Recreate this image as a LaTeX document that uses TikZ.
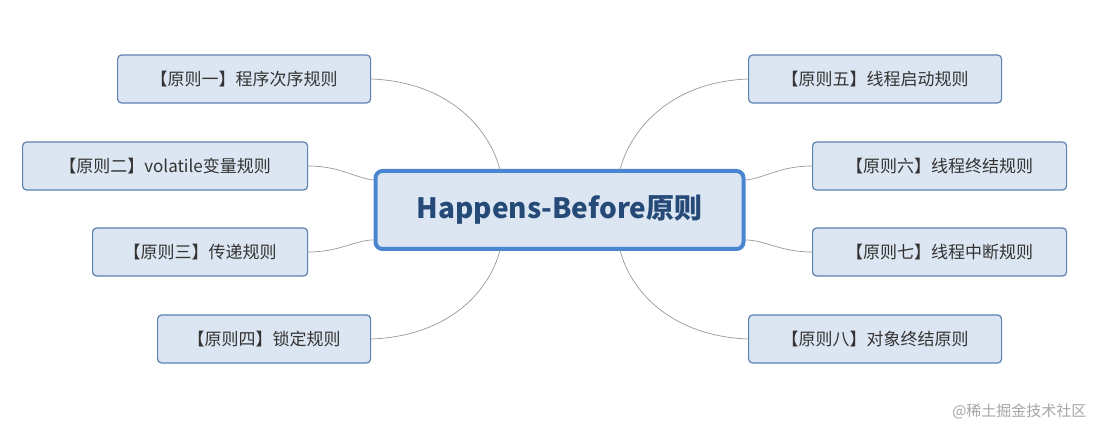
\documentclass[tikz,border=0pt]{standalone}
\usepackage{fontspec}
\setmainfont{Noto Sans CJK SC}
\definecolor{nfill}{HTML}{DCE6F2}
\definecolor{nline}{HTML}{5B82B0}
\definecolor{cline}{HTML}{4A86D0}
\definecolor{ctext}{HTML}{264A78}
\definecolor{ltext}{HTML}{333333}
\begin{document}
\begin{tikzpicture}[x=1pt,y=-1pt,
  side/.style={draw=nline,fill=nfill,rounded corners=4pt,line width=1.2pt,minimum height=48pt,inner xsep=4pt,font=\fontsize{17}{17}\selectfont,text=ltext,anchor=west},
  conn/.style={draw=gray!80,line width=0.7pt}]
\useasboundingbox[fill=white] (0,0) rectangle (1100,438);
\node[draw=cline,fill=nfill,rounded corners=7pt,line width=4pt,minimum width=368pt,minimum height=78pt,text=ctext,font=\fontsize{28}{28}\selectfont\bfseries] (c) at (559.5,210) {Happens-Before原则};
\node[side,minimum width=253pt] (n1) at (117,79) {【原则一】程序次序规则};
\node[side,minimum width=285pt] (n2) at (22,166) {【原则二】volatile变量规则};
\node[side,minimum width=215pt] (n3) at (92,252) {【原则三】传递规则};
\node[side,minimum width=213pt] (n4) at (157,339) {【原则四】锁定规则};
\node[side,minimum width=253pt] (n5) at (748,79) {【原则五】线程启动规则};
\node[side,minimum width=254pt] (n6) at (812,166) {【原则六】线程终结规则};
\node[side,minimum width=254pt] (n7) at (812,252) {【原则七】线程中断规则};
\node[side,minimum width=253pt] (n8) at (748,339) {【原则八】对象终结原则};
\coordinate (ct1) at (500,170); \coordinate (cb1) at (500,250);
\coordinate (ct2) at (620,170); \coordinate (cb2) at (620,250);
\draw[conn] (n1.east) .. controls (450,82) and (490,130) .. (ct1);
\draw[conn] (n4.east) .. controls (450,336) and (490,290) .. (cb1);
\draw[conn] (n2.east) .. controls (340,166) and (355,178) .. (c.west|-0,180);
\draw[conn] (n3.east) .. controls (340,252) and (355,240) .. (c.west|-0,240);
\draw[conn] (n5.west) .. controls (670,82) and (630,130) .. (ct2);
\draw[conn] (n8.west) .. controls (670,336) and (630,290) .. (cb2);
\draw[conn] (n6.west) .. controls (780,166) and (765,178) .. (c.east|-0,180);
\draw[conn] (n7.west) .. controls (780,252) and (765,240) .. (c.east|-0,240);
\node[text=gray!70,font=\fontsize{15}{15}\selectfont,anchor=east] (wm) at (1090,411) {@稀土掘金技术社区};
\end{tikzpicture}
\end{document}
